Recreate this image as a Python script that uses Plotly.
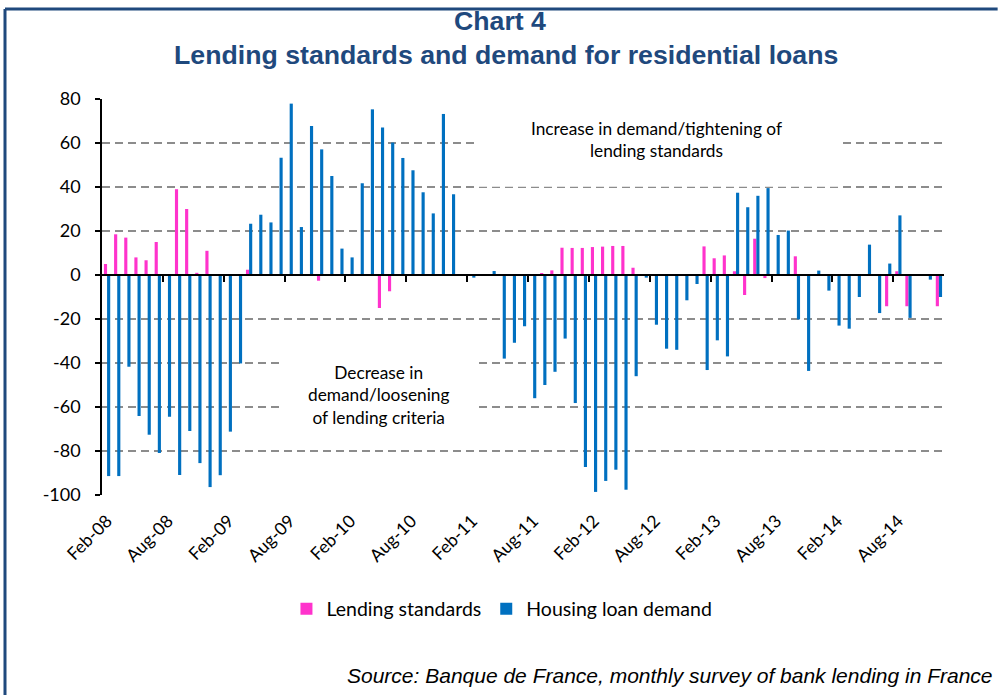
import plotly.graph_objects as go

# ---------------- data ----------------
month_names = ["Jan", "Feb", "Mar", "Apr", "May", "Jun",
               "Jul", "Aug", "Sep", "Oct", "Nov", "Dec"]
months = []
for yr in range(8, 15):
    for m in month_names:
        months.append(f"{m}-{yr:02d}")
months = months[1:]  # Feb-08 ... Dec-14 (83 months)

lending_standards = [
    5, 18.5, 17, 8, 6.7, 15, 0, 39, 30, 1, 11,            # Feb-08..Dec-08
    0, 0, 0, 2.4, 0, 0, 0, 0, 0, 0, -2.6, 0,              # Jan-09..Dec-09
    0, 0, 0, 0, -15, -7.4, 0, 0, 0, 0, 0, 0,              # Jan-10..Dec-10
    0, 0, 0, 0, 0, 0, 0, 0, 0.9, 2.1, 12.4, 12.3,         # Jan-11..Dec-11
    12.3, 12.7, 12.9, 13.2, 13.2, 3.3, 0, 0, 0, 0, 0, 0,  # Jan-12..Dec-12
    13, 7.6, 8.9, 1.7, -9.1, 16.5, -1.4, 0, 0, 8.5, 0, 0, # Jan-13..Dec-13
    0, 0, 0, 0, 0, 0, -14.2, 1.7, -14.2, 0, 0, -14.2,     # Jan-14..Dec-14
]

housing_loan_demand = [
    -91.4, -91.4, -41.7, -64.1, -72.6, -80.9, -64.4, -90.9, -70.9, -85.5, -96.4,  # 2008
    -91, -71.2, -40.2, 23.3, 27.4, 23.9, 53.3, 77.9, 21.8, 67.7, 57.1, 45,         # 2009
    12, 8, 41.7, 75.3, 67, 60.2, 53.2, 47.6, 37.6, 28, 73.2, 36.7,                 # 2010
    0.3, -1.2, 0, 1.8, -38, -30.8, -23.3, -56, -50, -44, -28.9, -58.2,             # 2011
    -87.3, -98.6, -93.6, -88.5, -97.6, -46, -1.2, -22.6, -33.5, -34, -11.5, -4.1,  # 2012
    -43.2, -29.7, -37, 37.4, 30.8, 36, 39.5, 18.2, 20.2, -20.2, -43.6, 2,          # 2013
    -7.1, -23, -24.4, -10, 13.8, -17.3, 5.2, 27.1, -19.5, 0, -2.1, -10,            # 2014
]

x_idx = list(range(len(months)))
tick_idx = x_idx[::6]
tick_text = [months[i] for i in tick_idx]
boundary_ticks = [i - 0.5 for i in tick_idx[1:]]

y_ticks = list(range(-100, 81, 20))
y_tick_text = [str(v) for v in y_ticks]

PINK = "#FF33CC"
BLUE = "#0070C0"
NAVY = "#1F497D"
BODY_FONT = "Lato"
TITLE_FONT = "Arial, Liberation Sans"

fig = go.Figure()
fig.add_trace(go.Bar(x=x_idx, y=lending_standards, name="Lending standards",
                     marker=dict(color=PINK, line=dict(width=0))))
fig.add_trace(go.Bar(x=x_idx, y=housing_loan_demand, name="Housing loan demand",
                     marker=dict(color=BLUE, line=dict(width=0))))
# invisible helper trace for the category axis drawn at zero
fig.add_trace(go.Scatter(x=x_idx, y=[0] * len(x_idx), xaxis="x2", mode="markers",
                         marker=dict(opacity=0), showlegend=False, hoverinfo="skip"))

fig.update_layout(
    width=998, height=698,
    margin=dict(l=102, r=54, t=99, b=203),
    paper_bgcolor="white", plot_bgcolor="white",
    barmode="group", bargap=0.38, bargroupgap=0,
    xaxis=dict(
        range=[-0.5, 82.5], showgrid=False, zeroline=False, showline=False,
        tickmode="array", tickvals=tick_idx, ticktext=tick_text, tickangle=-45,
        ticks="outside", ticklen=8, tickcolor="rgba(0,0,0,0)",
        tickfont=dict(family=BODY_FONT, size=17.5, color="black"),
    ),
    xaxis2=dict(
        overlaying="x", anchor="free", position=100 / 180, matches="x",
        showgrid=False, zeroline=False, showline=True, linecolor="black", linewidth=1.5,
        tickmode="array", tickvals=boundary_ticks, ticks="outside", ticklen=6,
        tickwidth=1.5, tickcolor="black", showticklabels=False,
    ),
    yaxis=dict(
        range=[-100, 80], tickmode="array", tickvals=y_ticks, ticktext=y_tick_text,
        showgrid=True, gridcolor="#8c8c8c", gridwidth=1.5, griddash="8px,5px",
        zeroline=False, showline=True, linecolor="black", linewidth=1.5,
        ticks="outside", ticklen=5, tickwidth=1.5, tickcolor="black",
        ticklabelstandoff=11,
        tickfont=dict(family=BODY_FONT, size=18, color="black"),
    ),
    legend=dict(
        orientation="h", x=0.475, xanchor="center", y=-0.288, yanchor="middle",
        font=dict(family=BODY_FONT, size=19.5, color="black"),
        bgcolor="rgba(0,0,0,0)",
    ),
    showlegend=True,
)

# title (two lines)
fig.add_annotation(text="<b>Chart 4</b>", xref="paper", yref="paper",
                   x=0.4727, y=1.197, xanchor="center", yanchor="middle", showarrow=False,
                   font=dict(family=TITLE_FONT, size=26.7, color=NAVY))
fig.add_annotation(text="<b>Lending standards and demand for residential loans</b>",
                   xref="paper", yref="paper", x=0.4798, y=1.111,
                   xanchor="center", yanchor="middle", showarrow=False,
                   font=dict(family=TITLE_FONT, size=26.7, color=NAVY))

# white boxes behind the text notes (cover the gridlines)
fig.add_shape(type="rect", xref="paper", yref="paper", x0=0.4466, x1=0.8765,
              y0=0.7785, y1=0.975, fillcolor="white", line=dict(width=0), layer="above")
fig.add_shape(type="rect", xref="paper", yref="paper", x0=0.2138, x1=0.4466,
              y0=0.17, y1=0.39, fillcolor="white", line=dict(width=0), layer="above")

fig.add_annotation(text="Increase in demand/tightening of<br>lending standards",
                   xref="paper", yref="paper", x=0.659, y=0.8965,
                   xanchor="center", yanchor="middle", showarrow=False,
                   font=dict(family=BODY_FONT, size=17.3, color="black"))
fig.add_annotation(text="Decrease in<br>demand/loosening<br>of lending criteria",
                   xref="paper", yref="paper", x=0.3278, y=0.2525,
                   xanchor="center", yanchor="middle", showarrow=False,
                   font=dict(family=BODY_FONT, size=17.3, color="black"))
fig.add_annotation(text="<i>Source: Banque de France, monthly survey of bank lending in France</i>",
                   xref="paper", yref="paper", x=1.0606, y=-0.457,
                   xanchor="right", yanchor="middle", showarrow=False,
                   font=dict(family=TITLE_FONT, size=21, color="black"))

# outer frame (only top and left edges fall inside the picture)
fig.add_shape(type="line", xref="paper", yref="paper", x0=-0.1152, x1=1.0637,
              y0=1.2273, y1=1.2273, line=dict(color=NAVY, width=3), layer="above")
fig.add_shape(type="line", xref="paper", yref="paper", x0=-0.1152, x1=-0.1152,
              y0=-0.505, y1=1.2273, line=dict(color=NAVY, width=3), layer="above")

fig.write_html("out.html")
